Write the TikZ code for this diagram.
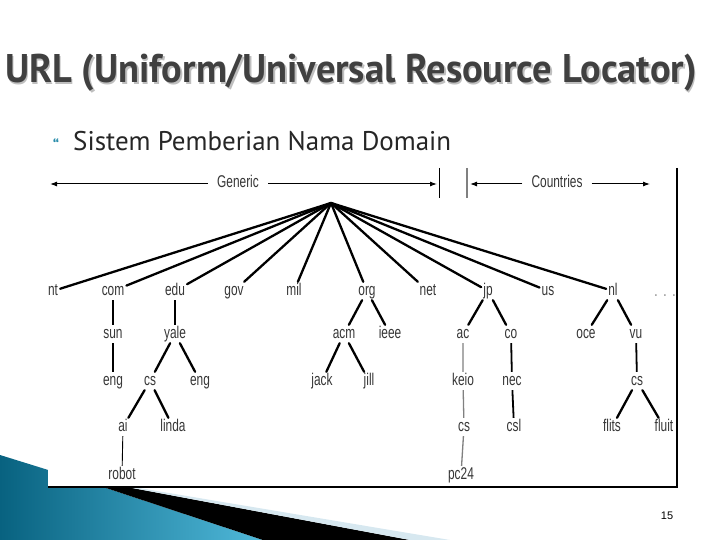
\documentclass[tikz,border=0pt]{standalone}
\usepackage{fontspec}
\setmainfont{Liberation Sans}
\newfontfamily\titlefont[FakeStretch=0.96]{PT Sans}
\newfontfamily\subfont{PT Sans}
\newfontfamily\treefont[FakeStretch=0.7]{Liberation Sans}
\usetikzlibrary{arrows.meta}
\definecolor{slidegray}{RGB}{64,64,64}
\definecolor{tealdark}{RGB}{8,98,128}
\definecolor{teallight}{RGB}{80,185,218}
\definecolor{iceblue}{RGB}{215,232,240}
\definecolor{labelgray}{RGB}{55,55,55}
\definecolor{bulletteal}{RGB}{40,140,170}
\begin{document}
\begin{tikzpicture}[x=1pt, y=-1pt,
  lbl/.style={font=\treefont\fontsize{17}{17}\selectfont, text=labelgray, inner sep=2pt, text height=11pt, text depth=3pt},
  barlbl/.style={lbl, inner xsep=9pt},
  trunk/.style={line width=2.3pt, line cap=round},
  stem/.style={line width=1.8pt},
  hair/.style={line width=0.9pt},
  >={Latex[length=7pt,width=5pt]}]
  \useasboundingbox (0,0) rectangle (720,540);
  % Bottom-left swoosh
  \shade[left color=tealdark, right color=teallight] (0,455) -- (103,487) -- (263,540) -- (0,540) -- cycle;
  \fill[black] (103,487) -- (127,487) -- (410,540) -- (263,540) -- cycle;
  \fill[iceblue] (127,487) -- (133,487) -- (450,540) -- (410,540) -- cycle;
  % Diagram panel
  \fill[white] (48,165) rectangle (677,487);
  \draw[line width=1.5pt] (677,168) -- (677,487) -- (48,487);
  % Title and bullet
  \node[font=\titlefont\bfseries\fontsize{40}{44}\selectfont, text=black!25] at (352.5,74.5) {URL (Uniform/Universal Resource Locator)};
  \node[font=\titlefont\bfseries\fontsize{40}{44}\selectfont, text=slidegray] (title) at (351,73) {URL (Uniform/Universal Resource Locator)};
  \node[font=\subfont\bfseries\fontsize{16}{16}\selectfont, text=bulletteal] (bullet) at (56,145) {\textquotedblleft};
  \node[anchor=base west, font=\subfont\fontsize{27}{30}\selectfont, text=black!85, inner sep=0pt] (sub) at (73,151) {Sistem Pemberian Nama Domain};
  % Generic / Countries bar
  \node[barlbl] (generic) at (238,184) {Generic};
  \node[barlbl] (countries) at (557,184) {Countries};
  \coordinate (genL) at (50,184);
  \coordinate (genR) at (437,184);
  \coordinate (couL) at (470,184);
  \coordinate (couR) at (650,184);
  \draw[->, line width=1pt] (generic) -- (genL);
  \draw[->, line width=1pt] (generic) -- (genR);
  \draw[->, line width=1pt] (countries) -- (couL);
  \draw[->, line width=1pt] (countries) -- (couR);
  \draw[line width=1pt] (439,168) -- (439,198);
  \draw[gray, line width=1.2pt] (467,168) -- (467,198);
  % Top level
  \coordinate (root) at (331,203);
  \foreach \n/\x in {nt/53, com/113, edu/175, gov/234, mil/294, org/367, net/428, jp/488, us/548, nl/613}
    \node[lbl] (\n) at (\x,291) {\n};
  \node[lbl, text=gray] (more) at (665,292) {.\,\,.\,\,.};
  \foreach \n in {nt, com, edu, gov, mil, org, net, jp, us, nl}
    \draw[trunk] (root) -- (\n);
  % Second level
  \node[lbl] (sun) at (113,334) {sun};
  \node[lbl] (yale) at (175,334) {yale};
  \node[lbl] (acm) at (344,334) {acm};
  \node[lbl] (ieee) at (390,334) {ieee};
  \node[lbl] (ac) at (463,334) {ac};
  \node[lbl] (co) at (511,334) {co};
  \node[lbl] (oce) at (586,334) {oce};
  \node[lbl] (vu) at (636,334) {vu};
  % Third level
  \node[lbl] (suneng) at (113,381) {eng};
  \node[lbl] (yalecs) at (150,381) {cs};
  \node[lbl] (yaleeng) at (200,381) {eng};
  \node[lbl] (jack) at (322,381) {jack};
  \node[lbl] (jill) at (369,381) {jill};
  \node[lbl] (keio) at (463,381) {keio};
  \node[lbl] (nec) at (512,381) {nec};
  \node[lbl] (vucs) at (637,381) {cs};
  % Fourth and fifth level
  \node[lbl] (ai) at (123,427) {ai};
  \node[lbl] (linda) at (173,427) {linda};
  \node[lbl] (keiocs) at (464,427) {cs};
  \node[lbl] (csl) at (514,427) {csl};
  \node[lbl] (flits) at (612,427) {flits};
  \node[lbl] (fluit) at (664,427) {fluit};
  \node[lbl] (robot) at (122,475) {robot};
  \node[lbl] (pc24) at (461,475) {pc24};
  % Edges below the top level
  \draw[stem] (com) -- (sun) (sun) -- (suneng);
  \draw[stem] (edu) -- (yale);
  \draw[trunk] (yale) -- (yalecs) (yale) -- (yaleeng);
  \draw[trunk] (yalecs) -- (ai) (yalecs) -- (linda);
  \draw[hair] (ai) -- (robot);
  \draw[trunk] (org) -- (acm) (org) -- (ieee);
  \draw[trunk] (acm) -- (jack) (acm) -- (jill);
  \draw[trunk] (jp) -- (ac) (jp) -- (co);
  \draw[gray, line width=1.3pt] (ac) -- (keio) (keio) -- (keiocs) (keiocs) -- (pc24);
  \draw[stem] (co) -- (nec) (nec) -- (csl);
  \draw[trunk] (nl) -- (oce) (nl) -- (vu);
  \draw[stem] (vu) -- (vucs);
  \draw[trunk] (vucs) -- (flits) (vucs) -- (fluit);
  % Page number
  \node[font=\fontsize{11}{11}\selectfont] (page) at (667,516) {15};
\end{tikzpicture}
\end{document}
